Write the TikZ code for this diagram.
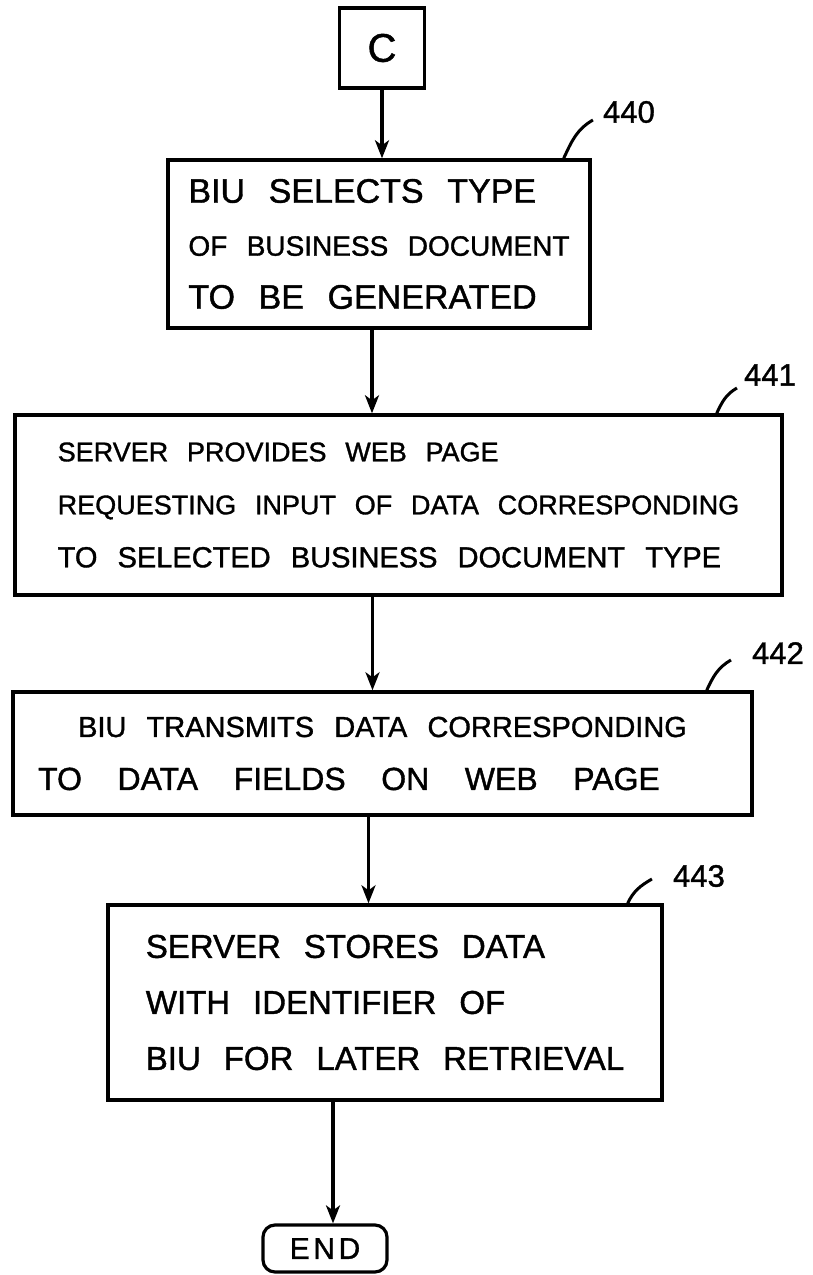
\documentclass[tikz,border=0pt]{standalone}
\usepackage{fontspec}
\setmainfont[WordSpace=2.5,FakeBold=1.2]{Liberation Sans}
\newfontfamily\widefam[WordSpace=4,FakeBold=1.2]{Liberation Sans}
\newfontfamily\endfam[LetterSpace=12,FakeBold=1.2]{Liberation Sans}
\usetikzlibrary{arrows.meta}
\newcommand\fsz[1]{\fontsize{#1}{53}\selectfont}
\begin{document}
\begin{tikzpicture}[x=1pt,y=-1pt,
  box/.style={draw, line width=3.4pt, align=left, inner sep=0pt, font=\fontsize{28}{53}\selectfont},
  flow/.style={line width=3.2pt, -{Stealth[length=18pt,width=14pt,inset=5pt]}},
  lead/.style={line width=3pt},
  refnum/.style={font=\fontsize{31}{31}\selectfont, inner sep=0pt}]
\useasboundingbox (0,0) rectangle (813,1275);
\node[box, minimum width=85pt, minimum height=80pt, align=center, font=\fontsize{40}{40}\selectfont] (c) at (382,48) {C};
\node[box, minimum width=422pt, minimum height=168pt] (b440) at (379,244)
  {\fsz{34}BIU SELECTS TYPE\\ \fsz{28}OF BUSINESS DOCUMENT\\ \fsz{34}TO BE GENERATED};
\node[box, minimum width=767pt, minimum height=180pt] (b441) at (398.5,505)
  {\fsz{27}SERVER PROVIDES WEB PAGE\\ \fsz{27}REQUESTING INPUT OF DATA CORRESPONDING\\ \fsz{29}TO SELECTED BUSINESS DOCUMENT TYPE};
\node[box, minimum width=739pt, minimum height=123pt] (b442) at (382.5,753.5)
  {\fsz{29}\hspace*{40pt}BIU TRANSMITS DATA CORRESPONDING\hspace*{40pt}\\ \widefam\fsz{32}TO DATA FIELDS ON WEB PAGE};
\node[box, minimum width=554pt, minimum height=195pt, font=\fontsize{33}{56}\selectfont] (b443) at (385,1002.5)
  {SERVER STORES DATA\\ WITH IDENTIFIER OF\\ BIU FOR LATER RETRIEVAL};
\node[draw, line width=3.2pt, rounded corners=12pt, minimum width=124pt, minimum height=47pt, inner sep=0pt, font=\endfam\fontsize{30}{30}\selectfont] (end) at (325,1248.5) {END};

\node[refnum] (l440) at (629,112) {440};
\node[refnum] (l441) at (770,375) {441};
\node[refnum] (l442) at (778,653) {442};
\node[refnum] (l443) at (699,876) {443};

\draw[flow] (c.south) -- (c.south |- b440.north);
\draw[flow] ([xshift=-7pt]b440.south) -- ([xshift=-7pt]b440.south |- b441.north);
\draw[flow] ([xshift=-26pt]b441.south) -- ([xshift=-26pt]b441.south |- b442.north);
\draw[flow] ([xshift=-14pt]b442.south) -- ([xshift=-14pt]b442.south |- b443.north);
\draw[flow] ([xshift=-52pt]b443.south) -- ([xshift=-52pt]b443.south |- end.north);

\draw[lead] ([xshift=-28pt]b440.north east) to[out=65,in=-150] ([xshift=-10pt,yshift=-8pt]l440.west);
\draw[lead] ([xshift=-67pt]b441.north east) to[out=65,in=-150] ([xshift=-7pt,yshift=-13pt]l441.west);
\draw[lead] ([xshift=-47pt]b442.north east) to[out=65,in=-150] ([xshift=-21pt,yshift=-7pt]l442.west);
\draw[lead] ([xshift=-36pt]b443.north east) to[out=65,in=-150] ([xshift=-21pt,yshift=-3pt]l443.west);
\end{tikzpicture}
\end{document}
